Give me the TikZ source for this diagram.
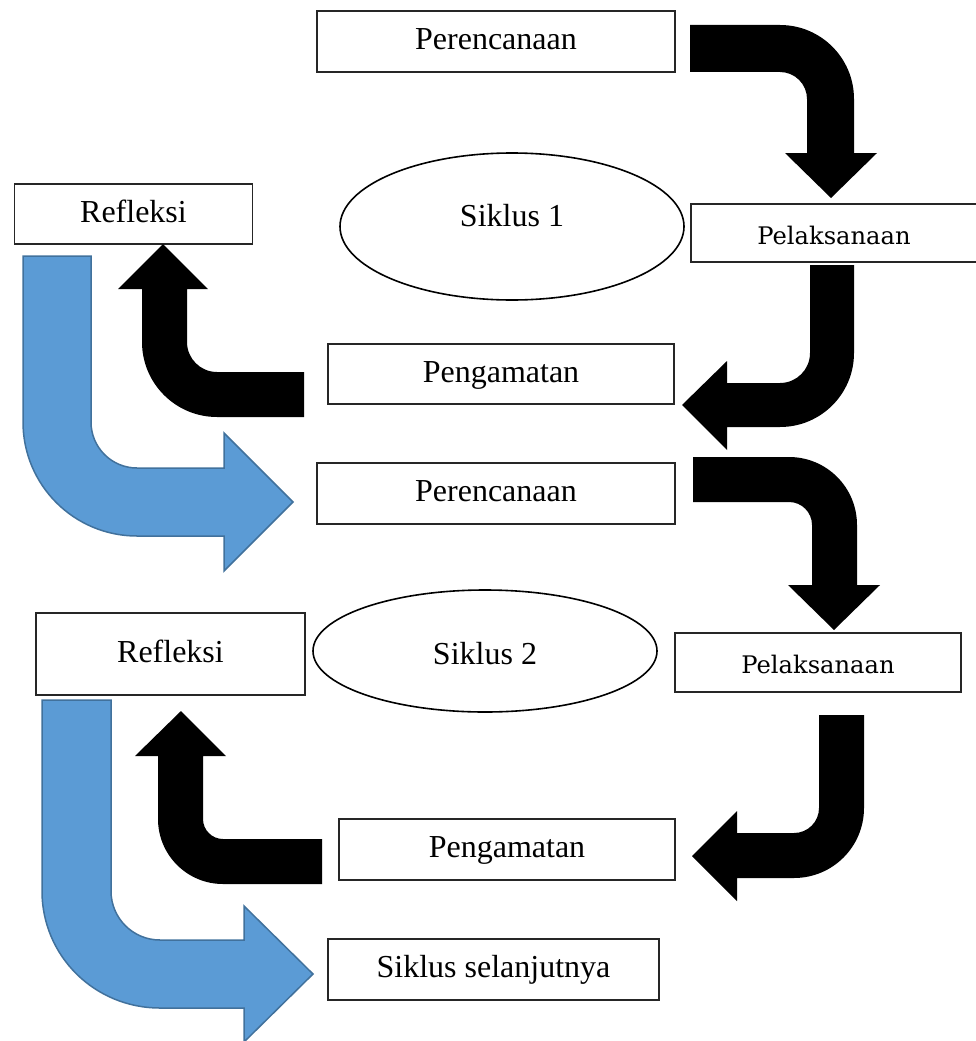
\documentclass[tikz,border=0pt]{standalone}
\usepackage{fontspec}
\setmainfont{Liberation Serif}
\newfontfamily\pelfont{DejaVu Serif}
\usetikzlibrary{shapes.geometric}
\definecolor{bluefill}{RGB}{91,155,213}
\definecolor{blueedge}{RGB}{65,113,156}
\tikzset{
  stepbox/.style={draw=black!85, line width=1.1pt, inner sep=0pt, fill=white,
    font=\fontsize{32}{38}\selectfont, text height=22pt, text depth=6pt},
  pelbox/.style={stepbox, font=\pelfont\fontsize{24.2}{29}\selectfont, text height=22pt, text depth=0pt},
  cyc/.style={ellipse, draw=black, line width=1.6pt, inner sep=0pt},
  cyctext/.style={font=\fontsize{32}{38}\selectfont, inner sep=0pt},
  blackarrow/.style={fill=black, draw=none},
  bluearrow/.style={fill=bluefill, draw=blueedge, line width=1.5pt, line join=miter},
}
\begin{document}
\begin{tikzpicture}[x=1pt, y=-1pt]
\useasboundingbox (0,0) rectangle (975,1041);

% boxes
\node[stepbox, minimum width=358pt, minimum height=61pt] (per1) at (496,41.5) {Perencanaan};
\node[stepbox, minimum width=238pt, minimum height=60pt] (ref1) at (133.5,214) {Refleksi};
\node[cyc, minimum width=344pt, minimum height=147pt] (sik1) at (512,226.5) {};
\node[cyctext] (sik1t) at (512,216) {Siklus 1};
\node[pelbox, minimum width=286pt, minimum height=58pt] (pel1) at (834,233) {Pelaksanaan};
\node[stepbox, minimum width=346pt, minimum height=60pt] (pen1) at (501,374) {Pengamatan};
\node[stepbox, minimum width=358pt, minimum height=61pt] (per2) at (496,493.5) {Perencanaan};
\node[stepbox, minimum width=269pt, minimum height=82pt] (ref2) at (170.5,654) {Refleksi};
\node[cyc, minimum width=344pt, minimum height=122pt] (sik2) at (485,651) {};
\node[cyctext] (sik2t) at (485,654) {Siklus 2};
\node[pelbox, minimum width=286pt, minimum height=59pt] (pel2) at (818,662.5) {Pelaksanaan};
\node[stepbox, minimum width=336pt, minimum height=61pt] (pen2) at (507,849.5) {Pengamatan};
\node[stepbox, minimum width=331pt, minimum height=61pt] (sel) at (493.5,969.5) {Siklus selanjutnya};

% arrow: Perencanaan 1 -> Pelaksanaan 1
\path[blackarrow] (690,25) -- (780,25) .. controls (820.9,25) and (854,58.1) .. (854,99)
  -- (854,153) -- (877,153) -- (831,198) -- (785,153) -- (807,153) -- (807,99)
  .. controls (807,84.1) and (794.9,72) .. (780,72) -- (690,72) -- cycle;

% arrow: Pelaksanaan 1 -> Pengamatan 1
\path[blackarrow] (810,265) -- (854,265) -- (854,353) .. controls (854,393.9) and (820.9,427) .. (780,427)
  -- (727,427) -- (727,450) -- (682,405) -- (727,361) -- (727,383) -- (780,383)
  .. controls (796.6,383) and (810,369.6) .. (810,353) -- cycle;

% arrow: Pengamatan 1 -> Refleksi 1
\path[blackarrow] (304,372) -- (217,372) .. controls (200.4,372) and (187,358.6) .. (187,342)
  -- (187,289) -- (208,289) -- (163,244) -- (118,289) -- (142,289) -- (142,342)
  .. controls (142,383.4) and (175.6,417) .. (217,417) -- (304,417) -- cycle;

% blue arrow: Refleksi 1 -> Perencanaan 2
\path[bluearrow] (23,256) -- (91,256) -- (91,422) .. controls (91,447.4) and (111.6,468) .. (137,468)
  -- (224,468) -- (224,433) -- (293,502) -- (224,571) -- (224,536) -- (137,536)
  .. controls (74,536) and (23,485) .. (23,422) -- cycle;

% arrow: Perencanaan 2 -> Pelaksanaan 2
\path[blackarrow] (693,457) -- (789,457) .. controls (826.6,457) and (857,487.4) .. (857,525)
  -- (857,585) -- (880,585) -- (834,630) -- (788,585) -- (812,585) -- (812,525)
  .. controls (812,512.3) and (801.7,502) .. (789,502) -- (693,502) -- cycle;

% arrow: Pelaksanaan 2 -> Pengamatan 2
\path[blackarrow] (819,715) -- (864,715) -- (864,808) .. controls (864,846.7) and (832.7,878) .. (794,878)
  -- (737,878) -- (737,901) -- (692,856) -- (737,811) -- (737,833) -- (794,833)
  .. controls (807.8,833) and (819,821.8) .. (819,808) -- cycle;

% arrow: Pengamatan 2 -> Refleksi 2
\path[blackarrow] (322,839) -- (223,839) .. controls (212,839) and (203,830) .. (203,819)
  -- (203,756) -- (226,756) -- (181,711) -- (135,756) -- (158,756) -- (158,819)
  .. controls (158,854.9) and (187.1,884) .. (223,884) -- (322,884) -- cycle;

% blue arrow: Refleksi 2 -> Siklus selanjutnya
\path[bluearrow] (42,700) -- (111,700) -- (111,891) .. controls (111,918.1) and (132.9,940) .. (160,940)
  -- (244,940) -- (244,906) -- (313,974) -- (244,1042) -- (244,1008) -- (160,1008)
  .. controls (94.8,1008) and (42,956.2) .. (42,891) -- cycle;
\end{tikzpicture}
\end{document}
